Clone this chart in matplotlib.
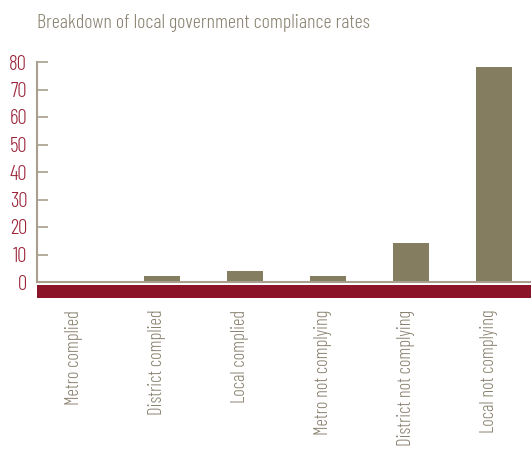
import matplotlib
matplotlib.use("Agg")
import matplotlib.pyplot as plt
from matplotlib.patches import Rectangle
import matplotlib.transforms as mtransforms

categories = ["Metro complied", "District complied", "Local complied",
              "Metro not complying", "District not complying", "Local not complying"]
values = [0.0, 2.3, 4.1, 2.3, 14.3, 78.3]
yticks = [0, 10, 20, 30, 40, 50, 60, 70, 80]

plt.rcParams['font.family'] = ['Barlow Condensed', 'DejaVu Sans']
plt.rcParams['font.weight'] = 300

BAR = "#857d5f"
RED = "#8c1428"
TICKRED = "#9a2338"
TAN = "#8a8270"
AXIS = "#a89f8c"

fig = plt.figure(figsize=(5.31, 4.51), dpi=100)
ax = fig.add_axes([37/531, (451-282)/451, 1 - 37/531, (282-62)/451])

x = list(range(len(categories)))
ax.bar(x, values, width=0.434, color=BAR)
ax.set_xlim(-0.506, 5.45)
ax.set_ylim(0, 80)
ax.set_yticks(yticks)
ax.set_yticklabels([str(v) for v in yticks], color=TICKRED, fontsize=15, fontweight=300)
ax.tick_params(axis='y', direction='in', length=8, width=1.2, color=AXIS, pad=7)
ax.tick_params(axis='x', length=0, pad=20)
ax.set_xticks(x)
labels = ax.set_xticklabels(categories, rotation=90, color=TAN, fontsize=13.3, fontweight=300,
                            va='top', ha='center')
offset = mtransforms.ScaledTranslation(-5/100, 0, fig.dpi_scale_trans)
for lab in labels:
    lab.set_transform(lab.get_transform() + offset)

for s in ['top', 'right']:
    ax.spines[s].set_visible(False)
for s in ['left', 'bottom']:
    ax.spines[s].set_color(AXIS)
    ax.spines[s].set_linewidth(1.5)

# red band under the x axis
band = Rectangle((0, -3/220), 1, -13/220, transform=ax.transAxes, color=RED,
                 clip_on=False, linewidth=0)
ax.add_patch(band)

fig.text(37/531, 1 - 23/451, "Breakdown of local government compliance rates",
         color=TAN, fontsize=14.5, fontweight=300, va='center', ha='left')

fig.savefig("out.png", dpi=100)
